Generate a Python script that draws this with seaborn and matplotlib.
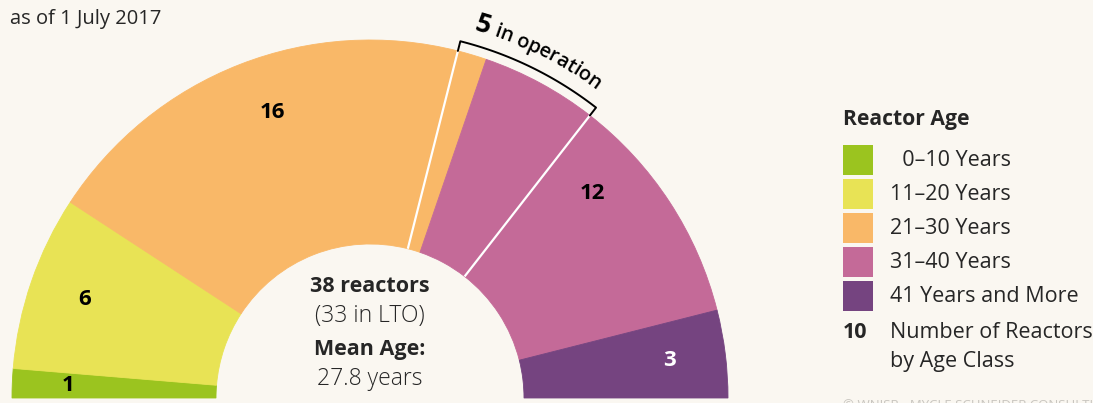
import numpy as np
import matplotlib
matplotlib.use("Agg")
import matplotlib.pyplot as plt
import seaborn as sns
from matplotlib.patches import Rectangle
from matplotlib.font_manager import FontProperties

# data
age_classes = ["\u20070\u201310 Years", "11\u201320 Years", "21\u201330 Years", "31\u201340 Years", "41 Years and More"]
reactors = [1, 6, 16, 12, 3]
in_operation = [0, 0, 1, 4, 0]   # reactors of each class not (yet) in LTO
colors = ["#9bc41f", "#e8e355", "#f9b868", "#c46a98", "#754480"]
mean_age = 27.8
date_label = "as of 1 July 2017"
credit = "\u00a9 WNISR - MYCLE SCHNEIDER CONSULTING"

total = sum(reactors)
n_op = sum(in_operation)
n_lto = total - n_op

bg = "#faf7f1"
W, H = 1093, 403
cx, cy = 370, H - 398     # donut centre in pixel units
R, r_in = 358, 154

sns.set_theme(style="white")
plt.rcParams["font.family"] = ["Open Sans", "DejaVu Sans"]
fam = ["Open Sans", "DejaVu Sans"]

fig = plt.figure(figsize=(W / 100, H / 100), dpi=100, facecolor=bg)
ax = fig.add_axes([0, 0, 1, 1])
ax.set_facecolor(bg)

# split each class in LTO / in-operation parts, op parts side by side
op_idx = [i for i, k in enumerate(in_operation) if k]
pieces, piece_cols, piece_op = [], [], []
for i, (n, k) in enumerate(zip(reactors, in_operation)):
    parts = [(n - k, False), (k, True)]
    if op_idx and i > op_idx[0]:
        parts = parts[::-1]
    for v, op in parts:
        if v:
            pieces.append(v)
            piece_cols.append(colors[i])
            piece_op.append(op)

wedges, _ = ax.pie(pieces + [total], colors=piece_cols + ["none"], startangle=180,
                   counterclock=False, radius=R, center=(cx, cy), frame=True,
                   wedgeprops=dict(width=R - r_in, linewidth=0.6))
for w, c in zip(wedges, piece_cols + ["none"]):
    w.set_edgecolor(c)

def ang(n):
    return np.deg2rad(180 - n * 180 / total)

# white separators around the in-operation group
cum = np.concatenate([[0], np.cumsum(pieces)])
op_pos = [j for j, op in enumerate(piece_op) if op]
a0, a1 = ang(cum[op_pos[0]]), ang(cum[op_pos[-1] + 1])
for a in (a0, a1):
    ax.plot([cx + r_in * np.cos(a), cx + R * np.cos(a)],
            [cy + r_in * np.sin(a), cy + R * np.sin(a)], color="white", lw=1.6,
            solid_capstyle="butt")

# bracket
rb = R + 10
t = np.linspace(a0, a1, 100)
bx = np.concatenate([[cx + R * np.cos(a0)], cx + rb * np.cos(t), [cx + R * np.cos(a1)]])
by = np.concatenate([[cy + R * np.sin(a0)], cy + rb * np.sin(t), [cy + R * np.sin(a1)]])
ax.plot(bx, by, color="black", lw=1.4)

# curved "5 in operation"
renderer = fig.canvas.get_renderer()
fp5 = FontProperties(family=fam, weight="bold", size=19)
fpt = FontProperties(family=fam, weight="semibold", size=14.5)
chars = [(str(n_op), fp5)] + [(c, fpt) for c in " in operation"]

def tw(s, fp):
    return renderer.get_text_width_height_descent(s, fp, ismath=False)[0]

adv = [tw("x" + c + "x", fp) - tw("xx", fp) for c, fp in chars]
r_text = 382
a_mid = (a0 + a1) / 2
start = a_mid + sum(adv) / 2 / r_text
pos = 0
for (c, fp), w in zip(chars, adv):
    th = start - (pos + w / 2) / r_text
    ax.text(cx + r_text * np.cos(th), cy + r_text * np.sin(th), c, fontproperties=fp,
            rotation=np.rad2deg(th) - 90, rotation_mode="anchor",
            ha="center", va="baseline", color="black")
    pos += w

# class counts
ccum = np.concatenate([[0], np.cumsum(reactors)])
for i, n in enumerate(reactors):
    a = ang((ccum[i] + ccum[i + 1]) / 2)
    ax.text(cx + 302 * np.cos(a), cy + 302 * np.sin(a), str(n), ha="center", va="center",
            fontsize=16, fontweight="bold",
            color="white" if i == len(reactors) - 1 else "black")

# centre text
ax.text(cx, H - 287, f"{total} reactors", ha="center", va="center", fontsize=15.5, fontweight="bold")
ax.text(cx, H - 316, f"({n_lto} in LTO)", ha="center", va="center", fontsize=16.5, fontweight="light")
ax.text(cx, H - 349, "Mean Age:", ha="center", va="center", fontsize=15.5, fontweight="bold")
ax.text(cx, H - 379, f"{mean_age} years", ha="center", va="center", fontsize=16.5, fontweight="light")

ax.text(10, H - 19, date_label, ha="left", va="center", fontsize=14.5)

# legend
lx = 843
ax.text(lx, H - 120, "Reactor Age", ha="left", va="center", fontsize=15.2, fontweight="bold")
for i, (lab, c) in enumerate(zip(age_classes, colors)):
    ytop = 145 + 34 * i
    ax.add_patch(Rectangle((lx, H - ytop - 30), 30, 30, color=c, lw=0))
    ax.text(890, H - ytop - 15, lab, ha="left", va="center", fontsize=15.5)
ax.text(lx, H - 333, "10", ha="left", va="center", fontsize=15.5, fontweight="bold")
ax.text(890, H - 333, "Number of Reactors", ha="left", va="center", fontsize=15.5)
ax.text(890, H - 362, "by Age Class", ha="left", va="center", fontsize=15.5)
ax.text(lx, H - 409, credit, ha="left", va="baseline", fontsize=9.5, color="#c9c6c0")

ax.set_xlim(0, W)
ax.set_ylim(0, H)
ax.set_aspect("auto")
ax.axis("off")

fig.savefig("out.png", dpi=100, facecolor=bg)
